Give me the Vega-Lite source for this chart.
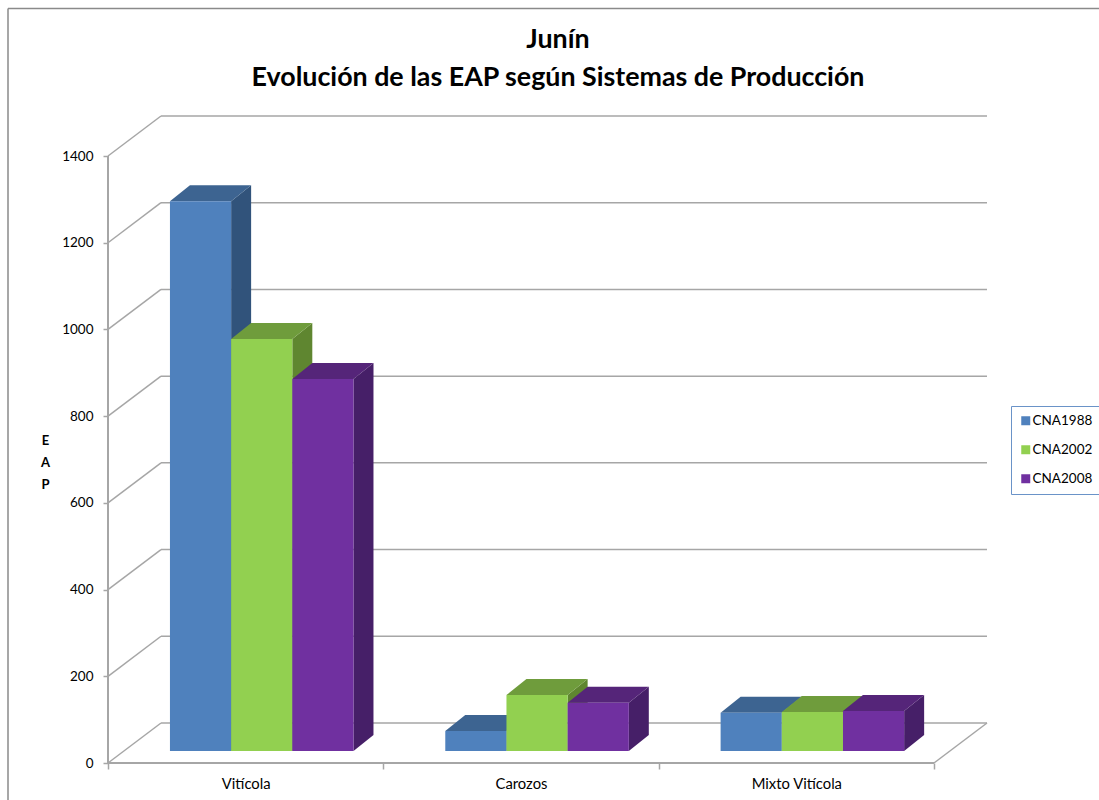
{
"$schema":"https://vega.github.io/schema/vega-lite/v6.json",
"width":879,"height":647,
"autosize":{"type":"none"},
"padding":{"left":108,"top":116,"right":112,"bottom":37},
"background":"white",
"title":{"text":["Junín","Evolución de las EAP según Sistemas de Producción"],"font":"Lato","fontSize":26.8,"fontWeight":"bold","color":"black","lineHeight":38,"anchor":"middle","dx":10.5,"offset":-84},
"config":{"view":{"stroke":null},"font":"Lato"},
"datasets":{
"bars":[
{"category":"Vitícola","series":"CNA1988","value":1268},
{"category":"Vitícola","series":"CNA2002","value":950},
{"category":"Vitícola","series":"CNA2008","value":858},
{"category":"Carozos","series":"CNA1988","value":46},
{"category":"Carozos","series":"CNA2002","value":129},
{"category":"Carozos","series":"CNA2008","value":111},
{"category":"Mixto Vitícola","series":"CNA1988","value":88},
{"category":"Mixto Vitícola","series":"CNA2002","value":90},
{"category":"Mixto Vitícola","series":"CNA2008","value":92}],
"ticks":[{"tick":0},{"tick":200},{"tick":400},{"tick":600},{"tick":800},{"tick":1000},{"tick":1200},{"tick":1400}]
},
"layer":[
{"data":{"name":"ticks"},"transform":[{"calculate":"datum.tick+92.3","as":"wall"}],"mark":{"type":"rule","color":"#A6A6A6","strokeWidth":1.5},
 "encoding":{"x":{"datum":0.1925,"type":"quantitative","scale":{"domain":[0,3.1925],"nice":false,"zero":false},
   "axis":{"values":[0,0.5,1,1.5,2,2.5,3],"title":null,"grid":false,"domain":false,"tickColor":"#A6A6A6","tickWidth":1.5,"tickSize":6,"tickOpacity":{"expr":"datum.value%1==0?1:0"},"labelExpr":"datum.value==0.5?'Vitícola':datum.value==1.5?'Carozos':datum.value==2.5?'Mixto Vitícola':''","labelFont":"Lato","labelFontSize":14.8,"labelColor":"black","labelPadding":7,"labelFlush":false,"labelOverlap":false}},
  "x2":{"datum":3.1925},
  "y":{"field":"wall","type":"quantitative","scale":{"domain":[0,1492.3],"nice":false,"zero":false},
   "axis":{"values":[0,200,400,600,800,1000,1200,1400],"format":"d","title":["E","A","P"],"titleAngle":0,"titleFont":"Lato","titleFontSize":13,"titleFontWeight":"bold","titleColor":"black","titleLineHeight":22,"titleX":-63,"titleY":331,"titleAlign":"center","grid":false,"domain":false,"tickColor":"#A6A6A6","tickWidth":1.5,"tickSize":5,"labelFont":"Lato","labelFontSize":13.5,"labelColor":"black","labelPadding":10}}}},
{"data":{"name":"ticks"},"transform":[{"calculate":"datum.tick+92.3","as":"wall"}],"mark":{"type":"rule","color":"#A6A6A6","strokeWidth":1.5},
 "encoding":{"x":{"datum":0,"type":"quantitative"},"x2":{"datum":0.1925},"y":{"field":"tick","type":"quantitative"},"y2":{"field":"wall"}}},
{"data":{"values":[{}]},"mark":{"type":"rule","color":"#A6A6A6","strokeWidth":2},
 "encoding":{"x":{"datum":0,"type":"quantitative"},"y":{"datum":0,"type":"quantitative"},"y2":{"datum":1400}}},
{"data":{"values":[{}]},"mark":{"type":"rule","color":"#A6A6A6","strokeWidth":2},
 "encoding":{"x":{"datum":0,"type":"quantitative"},"x2":{"datum":3},"y":{"datum":0,"type":"quantitative"}}},
{"data":{"values":[{}]},"mark":{"type":"rule","color":"#A6A6A6","strokeWidth":1.5},
 "encoding":{"x":{"datum":3,"type":"quantitative"},"x2":{"datum":3.1925},"y":{"datum":0,"type":"quantitative"},"y2":{"datum":92.3}}},
{"data":{"values":[{}]},"mark":{"type":"rule","color":"#8A8A8A","strokeWidth":1.5,"clip":false},
 "encoding":{"x":{"datum":-0.3632,"type":"quantitative"},"y":{"datum":1740,"type":"quantitative"},"y2":{"datum":-90}}},
{"data":{"values":[{}]},"mark":{"type":"rule","color":"#8A8A8A","strokeWidth":1.5,"clip":false},
 "encoding":{"x":{"datum":-0.3632,"type":"quantitative"},"x2":{"datum":3.6},"y":{"datum":1740,"type":"quantitative"}}},
{"data":{"name":"bars"},
 "transform":[
  {"calculate":"indexof(['Vitícola','Carozos','Mixto Vitícola'],datum.category)+0.225+indexof(['CNA1988','CNA2002','CNA2008'],datum.series)*0.2222+0.2222","as":"R"},
  {"calculate":"27.7+datum.value","as":"T"},
  {"calculate":"[0,1]","as":"p"},{"flatten":["p"]},
  {"calculate":"datum.R+datum.p*0.0726","as":"px"},
  {"calculate":"27.7+datum.p*36.9","as":"py"},
  {"calculate":"datum.T+datum.p*36.9","as":"py2"}],
 "mark":{"type":"area","orient":"vertical"},
 "encoding":{"x":{"field":"px","type":"quantitative"},"y":{"field":"py","type":"quantitative","stack":null},"y2":{"field":"py2"},
  "detail":{"field":"category"},
  "color":{"field":"series","type":"nominal","legend":null,"scale":{"domain":["CNA1988","CNA2002","CNA2008"],"range":["#31537B","#5F8630","#461F68"]}}}},
{"data":{"name":"bars"},
 "transform":[
  {"calculate":"indexof(['Vitícola','Carozos','Mixto Vitícola'],datum.category)+0.225+indexof(['CNA1988','CNA2002','CNA2008'],datum.series)*0.2222","as":"L"},
  {"calculate":"27.7+datum.value","as":"T"},
  {"calculate":"[0,1,2,3]","as":"p"},{"flatten":["p"]},
  {"calculate":"[datum.L,datum.L+0.0726,datum.L+0.2222,datum.L+0.2948][datum.p]","as":"px"},
  {"calculate":"datum.p==3?datum.T+36.9:datum.T","as":"py"},
  {"calculate":"datum.p==0?datum.T:datum.T+36.9","as":"py2"}],
 "mark":{"type":"area","orient":"vertical"},
 "encoding":{"x":{"field":"px","type":"quantitative"},"y":{"field":"py","type":"quantitative","stack":null},"y2":{"field":"py2"},
  "detail":{"field":"category"},
  "color":{"field":"series","type":"nominal","legend":null,"scale":{"domain":["CNA1988","CNA2002","CNA2008"],"range":["#3D6491","#6F9C3C","#552579"]}}}},
{"data":{"name":"bars"},
 "transform":[
  {"calculate":"indexof(['Vitícola','Carozos','Mixto Vitícola'],datum.category)+0.225+indexof(['CNA1988','CNA2002','CNA2008'],datum.series)*0.2222","as":"L"},
  {"calculate":"datum.L+0.2222","as":"R"},
  {"calculate":"27.7+datum.value","as":"T"},
  {"calculate":"27.7","as":"B"}],
 "mark":{"type":"rect"},
 "encoding":{"x":{"field":"L","type":"quantitative"},"x2":{"field":"R"},"y":{"field":"B","type":"quantitative"},"y2":{"field":"T"},
  "color":{"field":"series","type":"nominal","scale":{"domain":["CNA1988","CNA2002","CNA2008"],"range":["#4F81BD","#92D050","#7030A0"]},
   "legend":{"title":null,"orient":"none","legendX":903,"legendY":290,"symbolType":"square","symbolSize":81,"symbolOpacity":1,"symbolStrokeWidth":0,"labelFont":"Lato","labelFontSize":13.5,"labelColor":"black","labelOffset":0,"rowPadding":14,"padding":8,"strokeColor":"#6A93C8","fillColor":"white"}}}}
],
"resolve":{"scale":{"color":"independent"}}
}
